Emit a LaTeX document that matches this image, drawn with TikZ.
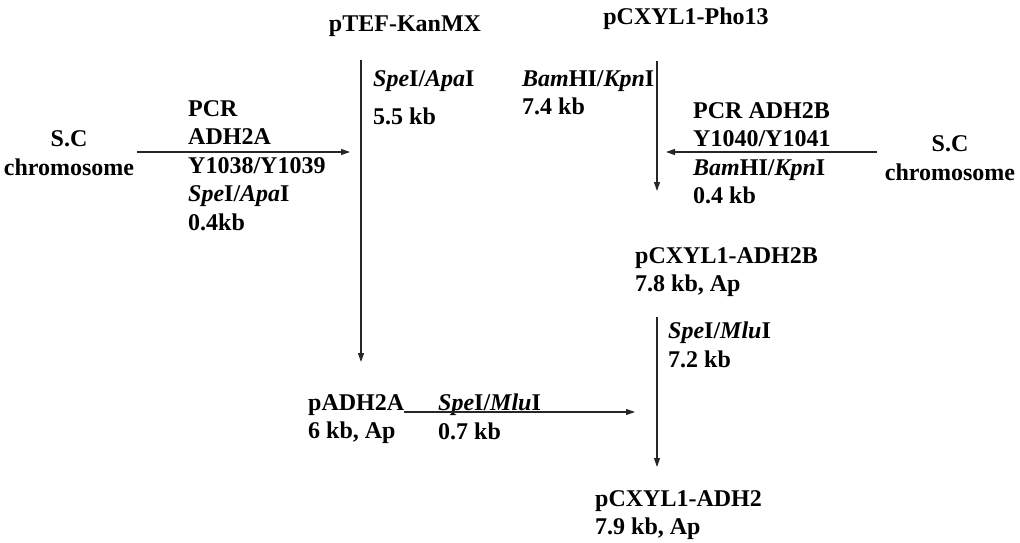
\documentclass[tikz,border=0pt]{standalone}
\usepackage{fontspec}
\setmainfont{Liberation Serif}
\usetikzlibrary{arrows.meta}

\tikzset{
	testo/.style={inner sep=0pt, align=left, anchor=north west},
	freccia/.style={line width=1.1pt, black!85, -{Triangle[length=9pt,width=6pt]}},
}

\begin{document}
\begin{tikzpicture}[x=1pt,y=-1pt,font=\fontsize{24}{28.5}\selectfont\bfseries]
	\useasboundingbox (0,0) rectangle (1020,543);

	% Plasmidi
	\node[inner sep=0pt] (tef) at (405,26) {pTEF-KanMX};
	\node[inner sep=0pt] (pho) at (686,19) {pCXYL1-Pho13};
	\node[testo] (padh) at (308,394) {pADH2A\\6 kb, Ap};
	\node[testo] (adhB) at (635,247) {pCXYL1-ADH2B\\7.8 kb, Ap};
	\node[testo] (adh) at (595,490) {pCXYL1-ADH2\\7.9 kb, Ap};

	% Cromosomi
	\node[inner sep=0pt, align=center] (scA) at (69,153) {S.C\\chromosome};
	\node[inner sep=0pt, align=center] (scB) at (950,158) {S.C\\chromosome};

	% Etichette degli enzimi
	\node[testo] (pcrA) at (188,100) {PCR\\ADH2A\\Y1038/Y1039\\\textit{Spe}I/\textit{Apa}I\\0.4kb};
	\node[testo] (pcrB) at (693,102) {PCR ADH2B\\Y1040/Y1041\\\textit{Bam}HI/\textit{Kpn}I\\0.4 kb};
	\node[testo] (taglioA) at (373,70) {\textit{Spe}I/\textit{Apa}I\\[10pt]5.5 kb};
	\node[testo] (taglioB) at (522,70) {\textit{Bam}HI/\textit{Kpn}I\\7.4 kb};
	\node[testo] (taglioC) at (668,322) {\textit{Spe}I/\textit{Mlu}I\\7.2 kb};
	\node[testo] (taglioD) at (438,394) {\textit{Spe}I/\textit{Mlu}I\\0.7 kb};

	% Assi e punti di arrivo
	\coordinate (asseA) at (361,152);
	\coordinate (asseB) at (657,152);
	\coordinate (asseC) at (657,412);

	% Frecce
	\draw[freccia, shorten <=23pt, shorten >=32pt] (tef.south -| asseA) -- (padh.north -| asseA);
	\draw[freccia, shorten <=31pt, shorten >=56pt] (pho.south -| asseB) -- (adhB.north -| asseB);
	\draw[freccia, shorten <=20pt, shorten >=23pt] (adhB.south -| asseB) -- (adh.north -| asseB);
	\draw[freccia, shorten <=3pt, shorten >=11pt] (scA.east |- asseA) -- (asseA);
	\draw[freccia, shorten <=8pt, shorten >=9pt] (scB.west |- asseB) -- (asseB);
	\draw[freccia, shorten >=22pt] (padh.east |- asseC) -- (asseC);
\end{tikzpicture}
\end{document}
